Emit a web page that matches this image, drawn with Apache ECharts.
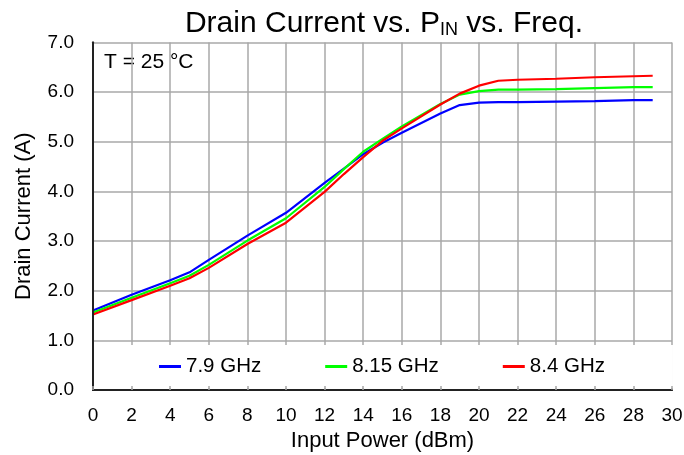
<!DOCTYPE html>
<html>
<head>
<meta charset="utf-8">
<script src="https://cdn.jsdelivr.net/npm/echarts@6/dist/echarts.min.js"></script>
<style>
  html, body { margin: 0; padding: 0; background: #fff; }
  #chart { width: 684px; height: 455px; }
</style>
</head>
<body>
<div id="chart"></div>
<script>
// input power (dBm)
const pin = [0, 2, 4, 5, 6, 8, 10, 12, 13, 14, 15, 16, 18, 19, 20, 21, 22, 24, 26, 28, 29];
// drain current (A) per frequency
const id79 = [1.60, 1.92, 2.21, 2.37, 2.62, 3.11, 3.57, 4.17, 4.46, 4.75, 4.98, 5.18, 5.57, 5.74, 5.79, 5.80, 5.80, 5.81, 5.82, 5.84, 5.84];
const id815 = [1.56, 1.86, 2.15, 2.30, 2.52, 3.01, 3.46, 4.09, 4.45, 4.80, 5.06, 5.31, 5.76, 5.95, 6.02, 6.05, 6.05, 6.06, 6.08, 6.10, 6.10];
const id84 = [1.52, 1.81, 2.10, 2.25, 2.46, 2.94, 3.37, 3.99, 4.35, 4.69, 5.02, 5.27, 5.75, 5.97, 6.13, 6.23, 6.25, 6.27, 6.30, 6.32, 6.33];
const seriesNames = ["7.9 GHz", "8.15 GHz", "8.4 GHz"];
const seriesColors = ["#0000ff", "#00ff00", "#ff0000"];

const font = 'Arial, "Liberation Sans", sans-serif';
const gridColor = "#a8a8a8";
const frame = { show: true, lineStyle: { color: "#222", width: 2 } };
const chart = echarts.init(document.getElementById("chart"));

const pairs = (ys) => pin.map((x, i) => [x, ys[i]]);

// extra axes only draw the frame and inside ticks on top of the legend box
const frameX = (pos, ticks) => ({
  type: "value", min: 0, max: 30, interval: 2, position: pos, z: 10,
  axisLine: frame,
  axisTick: { show: ticks, inside: true, length: 4, lineStyle: { color: gridColor, width: 1.5 } },
  axisLabel: { show: false },
  splitLine: { show: false },
});
const frameY = (pos) => ({
  type: "value", min: 0, max: 7, interval: 1, position: pos, z: 10,
  axisLine: frame,
  axisTick: { show: false },
  axisLabel: { show: false },
  splitLine: { show: false },
});

const option = {
  animation: false,
  title: {
    text: "{a|Drain Current vs. P}{b|IN}{a| vs. Freq.}",
    left: 379,
    top: 2,
    textAlign: "center",
    textStyle: {
      rich: {
        a: { fontSize: 30, fontFamily: font, fontWeight: "normal", color: "#000", lineHeight: 34 },
        b: { fontSize: 18, fontFamily: font, fontWeight: "normal", color: "#000", lineHeight: 34, padding: [12, 0, 0, 0] },
      },
    },
  },
  grid: {
    left: 93,
    right: 12,
    top: 42.5,
    bottom: 65,
    outerBoundsMode: "none",
    containLabel: false,
  },
  legend: {
    data: seriesNames,
    left: 95,
    top: 345,
    padding: [11, 68, 11, 64],
    itemGap: 64,
    itemWidth: 22,
    itemHeight: 3,
    icon: "rect",
    backgroundColor: "#fff",
    textStyle: { fontSize: 20.5, fontFamily: font, color: "#000" },
  },
  graphic: [
    {
      type: "group",
      left: 95,
      top: 44,
      z: 10,
      children: [
        { type: "rect", shape: { x: 0, y: 0, width: 108, height: 33 }, style: { fill: "#fff" } },
        { type: "text", x: 9, y: 8, style: { text: "T = 25 °C", font: "21px " + font, fill: "#000" } },
      ],
    },
  ],
  xAxis: [
    {
      type: "value",
      min: 0,
      max: 30,
      interval: 2,
      name: "Input Power (dBm)",
      nameLocation: "middle",
      nameGap: 38,
      nameTextStyle: { fontSize: 22, fontFamily: font, color: "#000" },
      axisLine: { show: false },
      axisTick: { show: false },
      axisLabel: { fontSize: 19, fontFamily: font, color: "#000", margin: 16 },
      splitLine: { show: true, lineStyle: { color: gridColor, width: 1.5 } },
    },
    frameX("bottom", true),
    frameX("top", false),
  ],
  yAxis: [
    {
      type: "value",
      min: 0,
      max: 7,
      interval: 1,
      name: "Drain Current (A)",
      nameLocation: "middle",
      nameGap: 58,
      nameTextStyle: { fontSize: 22, fontFamily: font, color: "#000" },
      axisLine: { show: false },
      axisTick: { show: false },
      axisLabel: {
        fontSize: 19,
        fontFamily: font,
        color: "#000",
        margin: 19,
        formatter: (v) => v.toFixed(1),
      },
      splitLine: { show: true, lineStyle: { color: gridColor, width: 1.5 } },
    },
    frameY("left"),
    frameY("right"),
  ],
  series: [id79, id815, id84].map((ys, i) => ({
    name: seriesNames[i],
    type: "line",
    xAxisIndex: 0,
    yAxisIndex: 0,
    data: pairs(ys),
    showSymbol: false,
    symbol: "none",
    color: seriesColors[i],
    lineStyle: { color: seriesColors[i], width: 2.2 },
    z: 3,
  })),
};

chart.setOption(option);
</script>
</body>
</html>
